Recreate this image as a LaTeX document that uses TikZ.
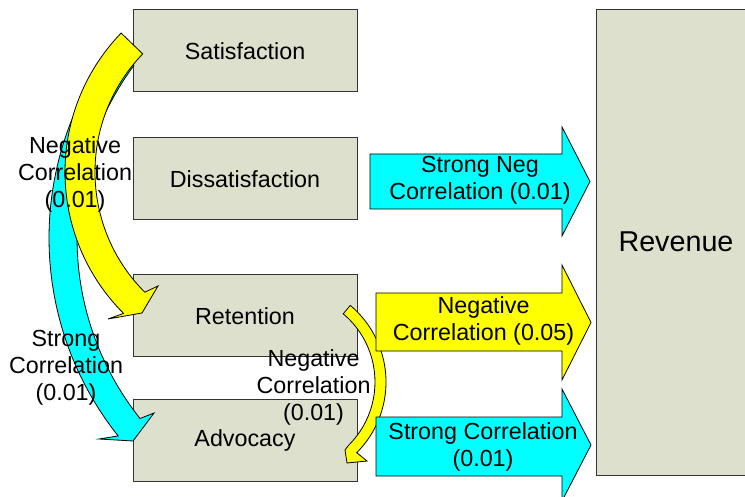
\documentclass[tikz,border=0pt]{standalone}
\usepackage{fontspec}
\setmainfont{Liberation Sans}
\usetikzlibrary{calc}
\definecolor{boxfill}{RGB}{221,224,204}
\definecolor{aqua}{RGB}{0,255,255}
\definecolor{lemon}{RGB}{255,255,0}
\tikzset{
  base/.style={font=\fontsize{23.3}{27}\selectfont},
  box/.style={draw=black!80, line width=1pt, fill=boxfill,
    minimum width=224pt, minimum height=82pt, inner sep=0pt, base},
  band/.style={draw=black, line width=0.8pt, line join=miter},
  lbl/.style={base, align=center, inner sep=0pt},
}
\begin{document}
\begin{tikzpicture}[x=1pt,y=1pt]
\useasboundingbox (0,0) rectangle (745,496);

% measures
\node[box] (sat) at (245,445) {Satisfaction};
\node[box] (dis) at (245,317) {Dissatisfaction};
\node[box] (ret) at (245,180) {Retention};
\node[box] (adv) at (245,56) {Advocacy};
\node[box, minimum width=160pt, minimum height=465.5pt,
  font=\fontsize{28.7}{33}\selectfont] (rev) at (676,253.75) {Revenue};

% curved links between the measures
\coordinate (c2) at (367,258);
\draw[band, fill=aqua] ($(c2)+(143.5:318)$) arc[start angle=143.5, end angle=218.5, radius=318]
  -- (99,57) -- (133,55) -- (154,83)
  -- ($(c2)+(218.5:290)$) arc[start angle=218.5, end angle=143.5, radius=290] -- cycle;

\coordinate (c1) at (265,324);
\draw[band, fill=lemon] ($(c1)+(136:200)$) arc[start angle=136, end angle=225, radius=200]
  -- (108,177) -- (142,183) -- (158,210)
  -- ($(c1)+(225:170)$) arc[start angle=225, end angle=136, radius=170] -- cycle;

\coordinate (c3) at (286,114);
\draw[band, fill=lemon] ($(c3)+(50:100)$) arc[start angle=50, end angle=-45, radius=100]
  -- (367,35) -- (347,33) -- (345,46)
  -- ($(c3)+(-45:89)$) arc[start angle=-45, end angle=50, radius=89] -- cycle;

% block arrows into revenue
\draw[band, fill=aqua] (370,287) -- (562,287) -- (562,260) -- (590,314.5)
  -- (562,369) -- (562,342) -- (370,342) -- cycle;
\draw[band, fill=lemon] (376,145) -- (562,145) -- (562,116) -- (591,173.5)
  -- (562,231) -- (562,203) -- (376,203) -- cycle;
\draw[band, fill=aqua] (376,20) -- (562,20) -- (562,-5) -- (591,51)
  -- (562,107) -- (562,79) -- (376,79) -- cycle;

% labels
\node[lbl] (l1) at (480,315.5) {Strong Neg\\Correlation (0.01)};
\node[lbl] (l2) at (483.5,175) {Negative\\Correlation (0.05)};
\node[lbl] (l3) at (483,49.5) {Strong Correlation\\(0.01)};
\node[lbl] (l4) at (75,321.5) {Negative\\Correlation\\(0.01)};
\node[lbl] (l5) at (66,128) {Strong\\Correlation\\(0.01)};
\node[lbl] (l6) at (313.5,109) {Negative\\Correlation\\(0.01)};
\end{tikzpicture}
\end{document}
